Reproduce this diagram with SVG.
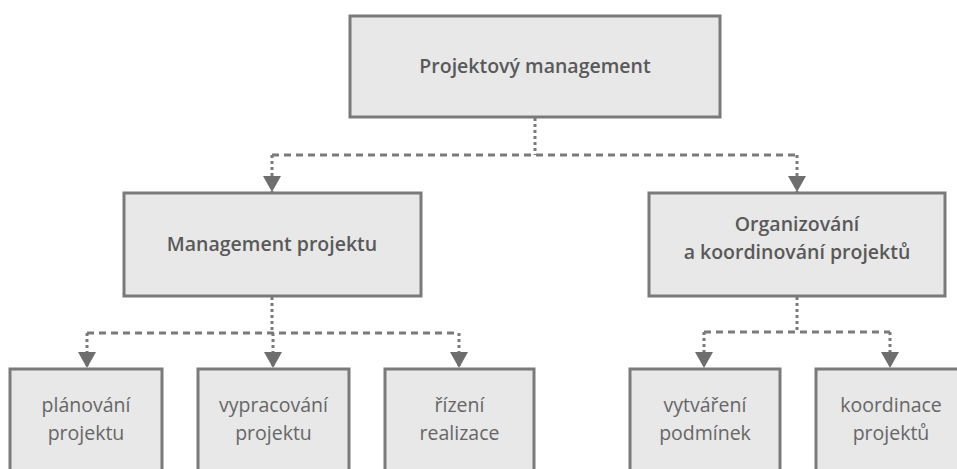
<svg xmlns="http://www.w3.org/2000/svg" width="957" height="469" viewBox="0 0 957 469">
  <defs>
    <marker id="arrow" markerUnits="userSpaceOnUse" markerWidth="18" markerHeight="20" viewBox="0 -10 18 20" refX="16" refY="0" orient="auto">
      <path d="M0,-9 L16,0 L0,9 Z" fill="#6e6e6e"/>
    </marker>
  </defs>
  <style>
    .box { fill: #e8e8e8; stroke: #7a7a7a; stroke-width: 3; }
    .h { fill: none; stroke: #7a7a7a; stroke-width: 3; stroke-dasharray: 7 5; }
    .v { fill: none; stroke: #7a7a7a; stroke-width: 3; stroke-dasharray: 3 3; }
    .bold { font-family: "Open Sans", "Liberation Sans", sans-serif; font-weight: 600; font-size: 19.5px; fill: #595959; text-anchor: middle; }
    .reg { font-family: "Open Sans", "Liberation Sans", sans-serif; font-weight: 400; font-size: 19.5px; fill: #666666; text-anchor: middle; }
  </style>
  <rect width="957" height="469" fill="#ffffff"/>

  <g id="connectors">
    <path class="v" d="M535,118 V155"/>
    <path class="h" d="M272,155 H797"/>
    <path class="v" d="M272,155 V192" marker-end="url(#arrow)"/>
    <path class="v" d="M797,155 V192" marker-end="url(#arrow)"/>

    <path class="v" d="M272,297 V333"/>
    <path class="h" d="M87,333 H459"/>
    <path class="v" d="M87,333 V368" marker-end="url(#arrow)"/>
    <path class="v" d="M273,333 V368" marker-end="url(#arrow)"/>
    <path class="v" d="M459,333 V368" marker-end="url(#arrow)"/>

    <path class="v" d="M797,297 V332"/>
    <path class="h" d="M704,332 H890"/>
    <path class="v" d="M704,332 V368" marker-end="url(#arrow)"/>
    <path class="v" d="M890,332 V368" marker-end="url(#arrow)"/>
  </g>

  <g id="node-projektovy-management">
    <rect class="box" x="350" y="16" width="370" height="101"/>
    <text class="bold" x="535" y="73">Projektový management</text>
  </g>

  <g id="node-management-projektu">
    <rect class="box" x="124" y="193" width="297" height="103"/>
    <text class="bold" x="272" y="251">Management projektu</text>
  </g>

  <g id="node-organizovani">
    <rect class="box" x="649" y="193" width="296" height="103"/>
    <text class="bold" x="797" y="231">Organizování</text>
    <text class="bold" x="797" y="259">a koordinování projektů</text>
  </g>

  <g id="node-planovani">
    <rect class="box" x="10" y="369" width="152" height="120"/>
    <text class="reg" x="86" y="412">plánování</text>
    <text class="reg" x="86" y="440">projektu</text>
  </g>

  <g id="node-vypracovani">
    <rect class="box" x="198" y="369" width="151" height="120"/>
    <text class="reg" x="273.5" y="412">vypracování</text>
    <text class="reg" x="273.5" y="440">projektu</text>
  </g>

  <g id="node-rizeni">
    <rect class="box" x="385" y="369" width="149" height="120"/>
    <text class="reg" x="459.5" y="412">řízení</text>
    <text class="reg" x="459.5" y="440">realizace</text>
  </g>

  <g id="node-vytvareni">
    <rect class="box" x="630" y="369" width="150" height="120"/>
    <text class="reg" x="705" y="412">vytváření</text>
    <text class="reg" x="705" y="440">podmínek</text>
  </g>

  <g id="node-koordinace">
    <rect class="box" x="816" y="369" width="150" height="120"/>
    <text class="reg" x="891" y="412">koordinace</text>
    <text class="reg" x="891" y="440">projektů</text>
  </g>
</svg>
